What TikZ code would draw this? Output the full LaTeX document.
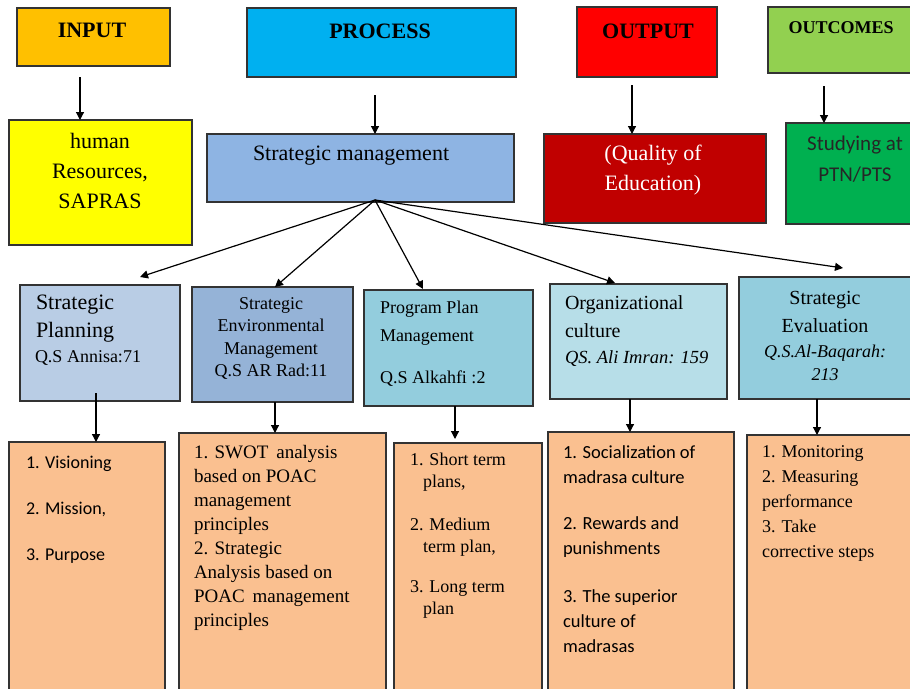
\documentclass[tikz,border=0pt]{standalone}
\usepackage{fontspec}
\setmainfont{Liberation Serif}
\newfontfamily\calibfont{Carlito}
\usetikzlibrary{arrows.meta}
\definecolor{cInput}{HTML}{FFC000}
\definecolor{cProcess}{HTML}{00B0F0}
\definecolor{cOutput}{HTML}{FF0000}
\definecolor{cOutcome}{HTML}{92D050}
\definecolor{cHuman}{HTML}{FFFF00}
\definecolor{cSM}{HTML}{8EB4E3}
\definecolor{cQual}{HTML}{C00000}
\definecolor{cStudy}{HTML}{00B050}
\definecolor{cSP}{HTML}{B9CDE5}
\definecolor{cSEM}{HTML}{95B3D7}
\definecolor{cPPM}{HTML}{93CDDD}
\definecolor{cOC}{HTML}{B7DEE8}
\definecolor{cSE}{HTML}{93CDDD}
\definecolor{cPeach}{HTML}{FAC090}
\newcommand\mybox[6]{\node[box,fill=#2,minimum width=#5-#3,minimum height=#6-#4] (#1) at (#3,#4) {};}
\newcommand\fs[2]{\fontsize{#1}{#2}\selectfont}
\begin{document}
\begin{tikzpicture}[x=1pt,y=-1pt,
  box/.style={draw=black!80,line width=1.2pt,anchor=north west,inner sep=0pt,outer sep=0pt},
  arr/.style={line width=1.2pt,-{Triangle[length=8pt,width=8pt]}},
  txt/.style={inner sep=0pt,outer sep=0pt,text=black},
  lt/.style={txt,anchor=base west,align=left},
  ct/.style={txt,anchor=base,align=center}]
\useasboundingbox (0,0) rectangle (910,688);
% top row
\mybox{inp}{cInput}{17}{8}{170}{66}
\mybox{proc}{cProcess}{247}{8}{516}{77}
\mybox{outp}{cOutput}{577}{7}{717}{77}
\mybox{outc}{cOutcome}{768}{7}{914}{73}
\node[ct,font=\fs{22}{26}\bfseries] (tinp) at (92,37) {INPUT};
\node[ct,font=\fs{22}{26}\bfseries] (tproc) at (380,38) {PROCESS};
\node[ct,font=\fs{22}{26}\bfseries] (toutp) at (648,38) {OUTPUT};
\node[ct,font=\fs{18}{22}\bfseries] (toutc) at (841,33) {OUTCOMES};
% second row
\mybox{hr}{cHuman}{9}{120}{192}{245}
\mybox{sm}{cSM}{207}{134}{514}{202}
\mybox{qual}{cQual}{544}{134}{766}{223}
\mybox{study}{cStudy}{786}{123}{914}{224}
\node[ct,font=\fs{22}{30}] (thr) at (100,208) {human\\Resources,\\SAPRAS};
\node[lt,font=\fs{22}{26}] (tsm) at (253,160) {Strategic management};
\node[ct,font=\fs{22}{30},text=white] (tqual) at (653,190) {(Quality of\\Education)};
\node[ct,font=\calibfont\fs{21}{31},text=black!85] (tstudy) at (855,181) {Studying at\\PTN/PTS};
% third row
\mybox{sp}{cSP}{20}{285}{180}{401}
\mybox{sem}{cSEM}{192}{287}{353}{402}
\mybox{ppm}{cPPM}{364}{290}{533}{406}
\mybox{oc}{cOC}{550}{284}{727}{399}
\mybox{se}{cSE}{739}{277}{914}{399}
\node[lt,font=\fs{22}{28}] (tsp) at (36,337) {Strategic\\Planning};
\node[lt,font=\fs{18}{22}] (tspq) at (35,362) {Q.S Annisa:71};
\node[ct,font=\fs{18}{22.5}] (tsem) at (271,376.5) {Strategic\\Environmental\\Management\\Q.S AR Rad:11};
\node[lt,font=\fs{18}{28}] (tppm) at (380,341) {Program Plan\\Management};
\node[lt,font=\fs{18}{22}] (tppmq) at (380,383) {Q.S Alkahfi :2};
\node[lt,font=\fs{20}{28}] (toc) at (565,337) {Organizational\\culture};
\node[lt,font=\fs{18.5}{22}\itshape] (tocq) at (565,363) {QS. Ali Imran: 159};
\node[ct,font=\fs{20}{28}] (tse) at (825,332) {Strategic\\Evaluation};
\node[ct,font=\fs{18}{23}\itshape] (tseq) at (825,380) {Q.S.Al-Baqarah:\\213};
% bottom row
\mybox{b1}{cPeach}{9}{442}{165}{692}
\mybox{b2}{cPeach}{179}{433}{386}{692}
\mybox{b3}{cPeach}{394}{443}{542}{692}
\mybox{b4}{cPeach}{548}{432}{734}{692}
\mybox{b5}{cPeach}{747}{435}{914}{692}
\node[lt,font=\calibfont\fs{18}{46}] (tb1) at (26,560) {1. Visioning\\2. Mission,\\3. Purpose};
\node[lt,font=\fs{19}{24}] (tb2) at (194,626) {1. SWOT\, analysis\\based on POAC\\management\\principles\\2. Strategic\\Analysis based on\\POAC\, management\\principles};
\node[lt,font=\fs{18}{22}] (tb3) at (410,614) {1. Short term\\\hspace*{13pt}plans,\\[21pt]2. Medium\\\hspace*{13pt}term plan,\\[18pt]3. Long term\\\hspace*{13pt}plan};
\node[lt,font=\calibfont\fs{18.5}{25}] (tb4) at (563,652) {1. Socialization of\\madrasa culture\\[21pt]2. Rewards and\\punishments\\[23pt]3. The superior\\culture of\\madrasas};
\node[lt,font=\fs{18}{25}] (tb5) at (762,557) {1. Monitoring\\2. Measuring\\performance\\3. Take\\corrective steps};
% arrows top
\coordinate (s1) at (80,77);
\coordinate (s2) at (375,95);
\coordinate (s3) at (632,85);
\coordinate (s4) at (824,86);
\draw[arr] (s1) -- (s1 |- hr.north);
\draw[arr] (s2) -- (s2 |- sm.north);
\draw[arr] (s3) -- (s3 |- qual.north);
\draw[arr] (s4) -- (s4 |- study.north);
% fan
\coordinate (fan) at (375,200);
\coordinate (f1) at (140,277);
\coordinate (f2) at (275,287);
\coordinate (f3) at (423,289);
\coordinate (f4) at (615,283);
\coordinate (f5) at (843,268);
\draw[arr] (fan) -- (f1);
\draw[arr] (fan) -- (f2);
\draw[arr] (fan) -- (f3);
\draw[arr] (fan) -- (f4);
\draw[arr] (fan) -- (f5);
% down arrows
\coordinate (d1) at (96,393);
\coordinate (d2) at (275,402);
\coordinate (d3) at (455,406);
\coordinate (e3) at (455,439);
\coordinate (d4) at (630,399);
\coordinate (d5) at (817,399);
\draw[arr] (d1) -- (d1 |- b1.north);
\draw[arr] (d2) -- (d2 |- b2.north);
\draw[arr] (d3) -- (e3);
\draw[arr] (d4) -- (d4 |- b4.north);
\draw[arr] (d5) -- (d5 |- b5.north);
\end{tikzpicture}
\end{document}
